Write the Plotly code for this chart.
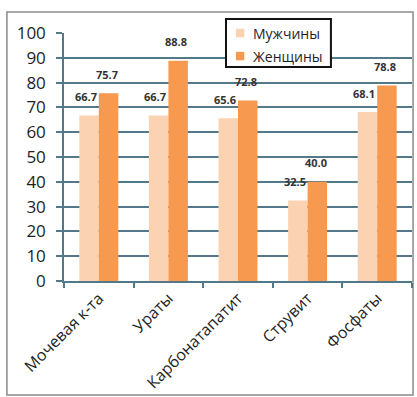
import plotly.graph_objects as go

categories = ["Мочевая к-та", "Ураты", "Карбонатапатит", "Струвит", "Фосфаты"]
men = [66.7, 66.7, 65.6, 32.5, 68.1]
women = [75.7, 88.8, 72.8, 40.0, 78.8]
y_ticks = [0, 10, 20, 30, 40, 50, 60, 70, 80, 90, 100]
series_names = ["Мужчины", "Женщины"]

FONT = "Open Sans, Noto Sans, sans-serif"
GRID = "#52788a"
MEN_COLOR = "#fbd3b2"
WOMEN_COLOR = "#f7994f"
TEXT = "#1e1e1e"

fig = go.Figure()
for name, vals, color in [(series_names[0], men, MEN_COLOR),
                          (series_names[1], women, WOMEN_COLOR)]:
    fig.add_trace(go.Bar(
        name=name, x=categories, y=vals,
        marker=dict(color=color, line_width=0),
        showlegend=False,
    ))

# value labels floated above each bar
annotations = []
for vals, dx in [(men, -13), (women, 8)]:
    for cat, v in zip(categories, vals):
        annotations.append(dict(
            x=cat, y=v, xref="x", yref="y", text=f"<b>{v:.1f}</b>",
            showarrow=False, xshift=dx, yshift=19, yanchor="middle",
            font=dict(family=FONT, size=11, color="#333333"),
        ))

# boxed legend in the upper middle of the plot
legend_rows = [(series_names[0], MEN_COLOR, 1.0), (series_names[1], WOMEN_COLOR, 0.907)]
shapes = [
    dict(type="rect", xref="paper", yref="paper",
         x0=-0.164, x1=1.003, y0=-0.46, y1=1.085,
         line=dict(color="#8a8a8a", width=1.5), layer="below"),
    dict(type="rect", xref="paper", yref="paper",
         x0=0.4655, x1=0.767, y0=0.863, y1=1.0565,
         line=dict(color="#111111", width=2), fillcolor="white", layer="above"),
]
for name, color, yc in legend_rows:
    shapes.append(dict(type="rect", xref="paper", yref="paper",
                       x0=0.494, x1=0.518, y0=yc - 0.017, y1=yc + 0.017,
                       line_width=0, fillcolor=color, layer="above"))
    annotations.append(dict(
        x=0.536, y=yc, xref="paper", yref="paper", text=name,
        showarrow=False, xanchor="left", yanchor="middle",
        font=dict(family=FONT, size=14, color=TEXT),
    ))

fig.update_layout(
    width=417, height=397,
    margin=dict(l=64, r=5, t=33, b=116),
    paper_bgcolor="white", plot_bgcolor="white",
    barmode="group", bargap=0.44, bargroupgap=0,
    font=dict(family=FONT, color=TEXT),
    showlegend=False,
    xaxis=dict(
        tickangle=-45, tickfont=dict(size=16, color=TEXT),
        showline=True, linecolor=GRID, linewidth=1.5,
        ticks="outside", tickson="boundaries", ticklen=5,
        tickcolor=GRID, tickwidth=1.5, automargin=False,
    ),
    yaxis=dict(
        range=[0, 100], tickvals=y_ticks,
        tickfont=dict(size=17, color=TEXT), ticklabelstandoff=7,
        showgrid=True, gridcolor=GRID, gridwidth=1.5,
        showline=True, linecolor=GRID, linewidth=1.5,
        ticks="outside", ticklen=6, tickcolor=GRID, tickwidth=1.5,
        zeroline=False, automargin=False,
    ),
    shapes=shapes,
    annotations=annotations,
)

fig.write_html("out.html")
